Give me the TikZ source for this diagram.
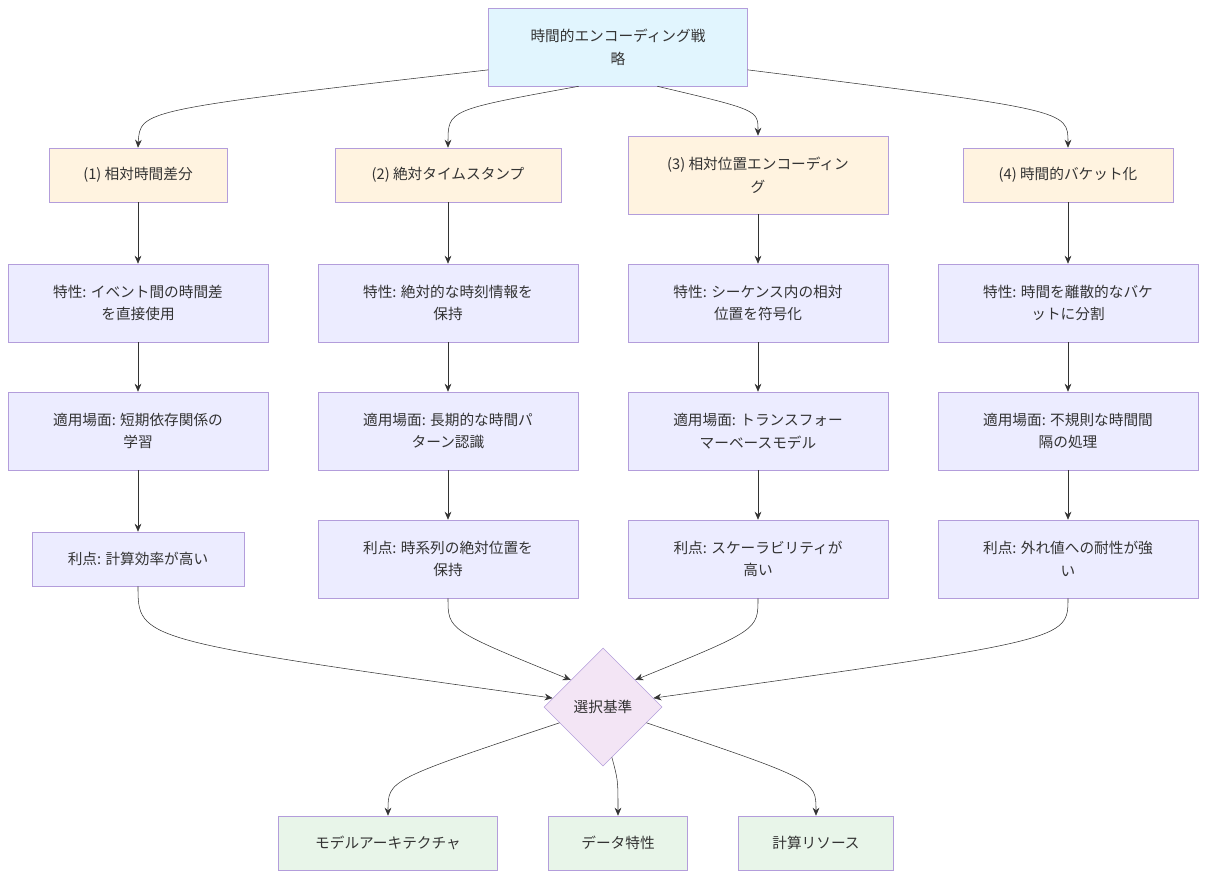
\documentclass[tikz,border=0pt]{standalone}
\usepackage{fontspec}
\setmainfont{Noto Sans CJK JP}
\usetikzlibrary{shapes.geometric,arrows.meta}
\definecolor{topfill}{HTML}{E1F5FE}
\definecolor{catfill}{HTML}{FFF3E0}
\definecolor{boxfill}{HTML}{ECECFF}
\definecolor{boxline}{HTML}{B39DDB}
\definecolor{critfill}{HTML}{F3E5F5}
\definecolor{resfill}{HTML}{E8F5E9}
\tikzset{
  box/.style={draw=boxline,fill=boxfill,minimum width=195pt,minimum height=58.5pt,align=center,font=\fontsize{11}{17}\selectfont,text=black!80},
  cat/.style={box,fill=catfill,minimum height=40.5pt},
  res/.style={box,fill=resfill,minimum height=40.5pt},
  arr/.style={draw=black!80,-{Stealth[length=6pt,width=5pt]}}
}
\begin{document}
\begin{tikzpicture}[x=0.75pt,y=-0.75pt]
	\useasboundingbox (0,0) rectangle (1206,878);
	%top
	\node[box,fill=topfill,minimum width=194pt] (top) at (618,47) {時間的エンコーディング戦\\略};
	
	%categories
	\node[cat,minimum width=133.5pt] (c1) at (138,175) {(1) 相対時間差分};
	\node[cat,minimum width=169.5pt] (c2) at (448,175) {(2) 絶対タイムスタンプ};
	\node[cat,minimum height=58.5pt] (c3) at (758,175) {(3) 相対位置エンコーディン\\グ};
	\node[cat,minimum width=157.5pt] (c4) at (1068,175) {(4) 時間的バケット化};
	
	%characteristics
	\node[box] (p1) at (138,303) {特性: イベント間の時間差\\を直接使用};
	\node[box] (p2) at (448,303) {特性: 絶対的な時刻情報を\\保持};
	\node[box] (p3) at (758,303) {特性: シーケンス内の相対\\位置を符号化};
	\node[box] (p4) at (1068,303) {特性: 時間を離散的なバケ\\ットに分割};
	
	%use cases
	\node[box] (u1) at (138,431) {適用場面: 短期依存関係の\\学習};
	\node[box] (u2) at (448,431) {適用場面: 長期的な時間パ\\ターン認識};
	\node[box] (u3) at (758,431) {適用場面: トランスフォー\\マーベースモデル};
	\node[box] (u4) at (1068,431) {適用場面: 不規則な時間間\\隔の処理};
	
	%advantages
	\node[box,minimum width=159pt,minimum height=40.5pt] (a1) at (138,559) {利点: 計算効率が高い};
	\node[box] (a2) at (448,559) {利点: 時系列の絶対位置を\\保持};
	\node[box] (a3) at (758,559) {利点: スケーラビリティが\\高い};
	\node[box] (a4) at (1068,559) {利点: 外れ値への耐性が強\\い};
	
	%criteria
	\node[diamond,draw=boxline,fill=critfill,minimum width=88.5pt,minimum height=88.5pt,inner sep=0,font=\fontsize{11}{17}\selectfont,text=black!80] (crit) at (603,707) {選択基準};
	
	%results
	\node[res,minimum width=164pt] (r1) at (388,843) {モデルアーキテクチャ};
	\node[res,minimum width=104pt] (r2) at (618,843) {データ特性};
	\node[res,minimum width=116pt] (r3) at (816,843) {計算リソース};
	
	%connectors
	\draw[arr] (top.190) .. controls (140,110) .. (c1.north);
	\draw[arr] (top.225) .. controls (448,110) .. (c2.north);
	\draw[arr] (top.-45) .. controls (758,110) .. (c3.north);
	\draw[arr] (top.-10) .. controls (1068,110) .. (c4.north);
	\foreach \i in {1,2,3,4}{
		\draw[arr] (c\i) -- (p\i);
		\draw[arr] (p\i) -- (u\i);
		\draw[arr] (u\i) -- (a\i);
	}
	\draw[arr] (a1.south) .. controls (138,640) .. (crit.170);
	\draw[arr] (a2.south) .. controls (448,630) .. (crit.140);
	\draw[arr] (a3.south) .. controls (758,630) .. (crit.40);
	\draw[arr] (a4.south) .. controls (1068,640) .. (crit.10);
	\draw[arr] (crit.200) .. controls (388,780) .. (r1.north);
	\draw[arr] (crit.-80) .. controls (618,780) .. (r2.north);
	\draw[arr] (crit.-20) .. controls (816,780) .. (r3.north);
\end{tikzpicture}
\end{document}
